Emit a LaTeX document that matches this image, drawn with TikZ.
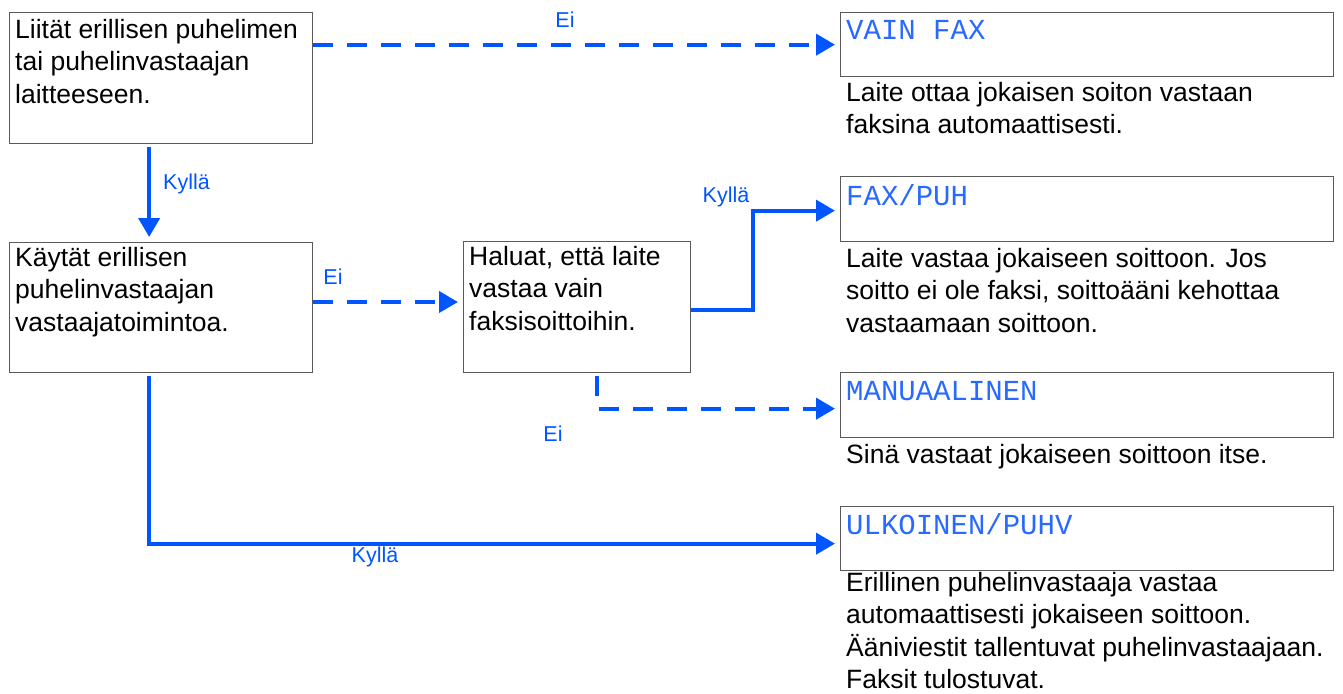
\documentclass[tikz,border=0pt]{standalone}
\usepackage{fontspec}
\setmainfont{Liberation Sans}
\setmonofont{Liberation Mono}
\usetikzlibrary{arrows.meta,calc}
\definecolor{arrowblue}{RGB}{0,85,255}
\definecolor{monoblue}{RGB}{40,105,255}
\tikzset{
  box/.style={draw=black!65, line width=1.3pt, minimum height=#1, inner sep=0pt, anchor=north west},
  bodytext/.style={anchor=base west, inner sep=0pt, align=left, font=\fontsize{26.5}{32.5}\selectfont, text=black},
  monotext/.style={anchor=base west, inner sep=0pt, font=\ttfamily\fontsize{29}{32}\selectfont, text=monoblue},
  lbl/.style={inner sep=0pt, font=\fontsize{21.5}{26}\selectfont, text=arrowblue},
  conn/.style={draw=arrowblue, line width=4pt, -{Triangle[length=19pt,width=21pt]}, shorten >=5pt},
  dconn/.style={conn, dash pattern=on 20pt off 14pt},
}
\begin{document}
\begin{tikzpicture}[x=1pt,y=-1pt]
\useasboundingbox (0,0) rectangle (1343,693);
% left boxes
\node[box=131pt, minimum width=303pt] (b1) at (9,12) {};
\node[box=130pt, minimum width=303pt] (b2) at (9,242) {};
\node[box=131pt, minimum width=227pt] (b3) at (463,241) {};
\node[bodytext] (t1) at (15,103) {Liität erillisen puhelimen\\tai puhelinvastaajan\\laitteeseen.};
\node[bodytext] (t2) at (15,331) {Käytät erillisen\\puhelinvastaajan\\vastaajatoimintoa.};
\node[bodytext] (t3) at (469,330) {Haluat, että laite\\vastaa vain\\faksisoittoihin.};
% right boxes
\node[box=64pt, minimum width=493pt] (vain) at (840,12) {};
\node[box=65pt, minimum width=493pt] (fax) at (840,176) {};
\node[box=65pt, minimum width=493pt] (man) at (840,372) {};
\node[box=64pt, minimum width=493pt] (ulk) at (840,506) {};
\node[monotext] (m1) at (846,40) {VAIN FAX};
\node[monotext] (m2) at (846,205) {FAX/PUH};
\node[monotext] (m3) at (846,400) {MANUAALINEN};
\node[monotext] (m4) at (846,534) {ULKOINEN/PUHV};
\node[bodytext] (d1) at (846,133.5) {Laite ottaa jokaisen soiton vastaan\\faksina automaattisesti.};
\node[bodytext] (d2) at (846,332) {Laite vastaa jokaiseen soittoon. Jos\\soitto ei ole faksi, soittoääni kehottaa\\vastaamaan soittoon.};
\node[bodytext] (d3) at (846,463) {Sinä vastaat jokaiseen soittoon itse.};
\node[bodytext] (d4) at (846,688.5) {Erillinen puhelinvastaaja vastaa\\automaattisesti jokaiseen soittoon.\\Ääniviestit tallentuvat puhelinvastaajaan.\\Faksit tulostuvat.};
% connectors
\draw[dconn] (b1.east |- vain.west) -- (vain.west);
\node[lbl] (l1) at (565,20) {Ei};
\draw[conn] ($(b1.south)+(-12,3)$) -- ($(b2.north)+(-12,0)$);
\node[lbl, anchor=west] (l2) at (163,184) {Kyllä};
\draw[dconn] (b2.east |- 0,302) -- (b3.west |- 0,302);
\node[lbl] (l3) at (333,277) {Ei};
\coordinate (k1) at ($(b3.east)+(62,3)$);
\draw[conn] (b3.east |- k1) -- (k1) |- ($(fax.west)+(0,1.5)$);
\node[lbl] (l4) at (726,197) {Kyllä};
\draw[dconn] ($(b3.south)+(20,3)$) |- ($(man.west)+(0,3.5)$);
\node[lbl] (l5) at (553,434) {Ei};
\draw[conn] ($(b2.south)+(-12,3)$) |- ($(ulk.west)+(0,5)$);
\node[lbl] (l6) at (375,557) {Kyllä};
\end{tikzpicture}
\end{document}
